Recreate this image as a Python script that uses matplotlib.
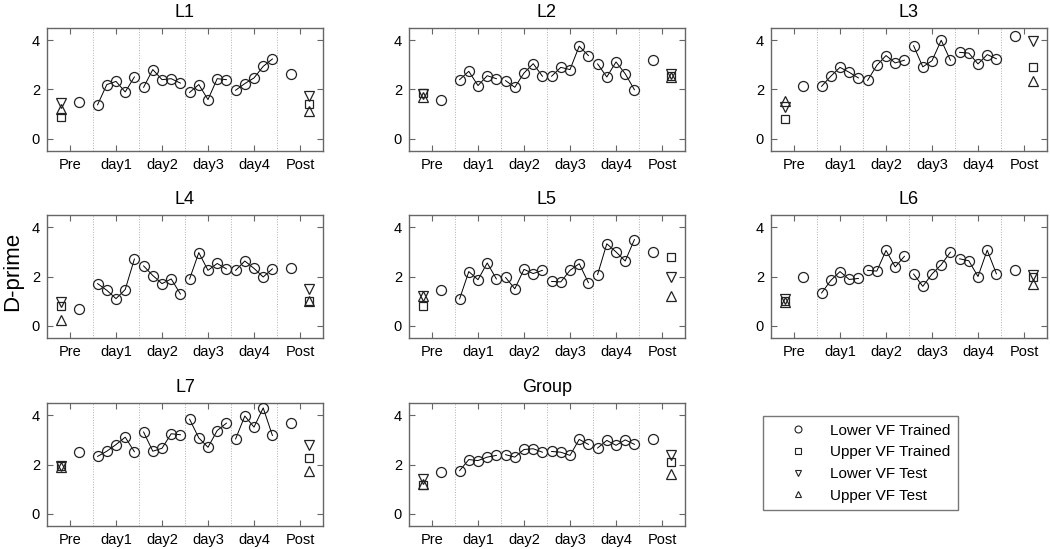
import numpy as np
import matplotlib.pyplot as plt
from matplotlib.lines import Line2D

plt.rcParams['font.family'] = ['Liberation Sans', 'DejaVu Sans']

phases = ['Pre', 'day1', 'day2', 'day3', 'day4', 'Post']
labels = ['Lower VF Trained', 'Upper VF Trained', 'Lower VF Test', 'Upper VF Test']

# pre / post: [lower VF trained, upper VF trained, lower VF test, upper VF test]
# days: 5 sessions per day, day1..day4
l1_pre = [1.48, 0.9, 1.45, 1.2]
l1_days = [1.38, 2.2, 2.33, 1.9, 2.51,
           2.09, 2.81, 2.4, 2.44, 2.26,
           1.88, 2.2, 1.59, 2.44, 2.4,
           1.97, 2.24, 2.47, 2.94, 3.24]
l1_post = [2.64, 1.42, 1.75, 1.11]

l2_pre = [1.56, 1.85, 1.8, 1.7]
l2_days = [2.4, 2.74, 2.16, 2.56, 2.44,
           2.36, 2.09, 2.67, 3.05, 2.54,
           2.54, 2.9, 2.81, 3.76, 3.38,
           3.04, 2.51, 3.12, 2.64, 1.99]
l2_post = [3.19, 2.55, 2.65, 2.5]

l3_pre = [2.13, 0.81, 1.29, 1.55]
l3_days = [2.13, 2.54, 2.9, 2.7, 2.47,
           2.37, 2.98, 3.38, 3.08, 3.19,
           3.78, 2.92, 3.17, 4.0, 3.19,
           3.51, 3.48, 3.04, 3.42, 3.25]
l3_post = [4.16, 2.9, 3.96, 2.33]

l4_pre = [0.68, 0.8, 0.95, 0.22]
l4_days = [1.71, 1.44, 1.1, 1.47, 2.71,
           2.43, 2.04, 1.71, 1.9, 1.29,
           1.9, 2.97, 2.25, 2.53, 2.31,
           2.25, 2.63, 2.33, 1.98, 2.31]
l4_post = [2.35, 0.99, 1.5, 1.0]

l5_pre = [1.47, 0.82, 1.2, 1.22]
l5_days = [1.09, 2.2, 1.87, 2.55, 1.9,
           1.96, 1.5, 2.29, 2.12, 2.25,
           1.8, 1.78, 2.25, 2.52, 1.75,
           2.08, 3.33, 3.0, 2.63, 3.5]
l5_post = [2.99, 2.8, 1.99, 1.22]

l6_pre = [2.0, 1.0, 1.1, 0.95]
l6_days = [1.33, 1.84, 2.2, 1.88, 1.92,
           2.25, 2.22, 3.06, 2.39, 2.82,
           2.1, 1.6, 2.1, 2.48, 2.99,
           2.72, 2.64, 2.0, 3.07, 2.11]
l6_post = [2.25, 1.97, 2.05, 1.7]

l7_pre = [2.5, 1.93, 1.95, 1.9]
l7_days = [2.33, 2.54, 2.81, 3.11, 2.52,
           3.32, 2.54, 2.66, 3.25, 3.21,
           3.84, 3.08, 2.7, 3.38, 3.68,
           3.04, 3.97, 3.52, 4.3, 3.18]
l7_post = [3.68, 2.25, 2.81, 1.72]

group_pre = [1.69, 1.15, 1.4, 1.2]
group_days = [1.75, 2.2, 2.16, 2.3, 2.37,
              2.4, 2.3, 2.61, 2.64, 2.5,
              2.53, 2.5, 2.37, 3.02, 2.82,
              2.67, 2.98, 2.78, 3.0, 2.82]
group_post = [3.02, 2.12, 2.4, 1.61]

panels = [('L1', l1_pre, l1_days, l1_post),
          ('L2', l2_pre, l2_days, l2_post),
          ('L3', l3_pre, l3_days, l3_post),
          ('L4', l4_pre, l4_days, l4_post),
          ('L5', l5_pre, l5_days, l5_post),
          ('L6', l6_pre, l6_days, l6_post),
          ('L7', l7_pre, l7_days, l7_post),
          ('Group', group_pre, group_days, group_post)]

markers = ['o', 's', 'v', '^']
msizes = [7.2, 5.5, 7.5, 7.5]
mcol = '#222222'
frame_col = '#666666'

fig = plt.figure(figsize=(10.5, 5.49), dpi=100)

lefts = [47, 409, 771]
tops = [28, 215, 403]
W, H = 276, 123

offsets = np.array([-0.4, -0.2, 0.0, 0.2, 0.4])

for i, (name, pre, days, post) in enumerate(panels):
    r, c = divmod(i, 3)
    ax = fig.add_axes([lefts[c] / 1050, 1 - (tops[r] + H) / 549, W / 1050, H / 549])

    for xv in np.arange(1.5, 6, 1.0):
        ax.axvline(xv, color='#b0b0b0', lw=0.7, ls=':', zorder=0)

    # sessions, one connected run per day
    for d in range(4):
        xs = d + 2 + offsets
        ys = days[d * 5:(d + 1) * 5]
        ax.plot(xs, ys, '-', color='black', lw=0.7, zorder=2)
        ax.plot(xs, ys, 'o', ms=msizes[0], mfc='none', mec=mcol, mew=0.9, zorder=3)

    # pre / post
    for k in range(4):
        xpre = 1.2 if k == 0 else 0.8
        xpost = 5.8 if k == 0 else 6.2
        ax.plot([xpre, xpost], [pre[k], post[k]], ls='none', marker=markers[k],
                ms=msizes[k], mfc='none', mec=mcol, mew=0.9, zorder=3)

    ax.set_xlim(0.5, 6.5)
    ax.set_ylim(-0.5, 4.5)
    ax.set_xticks(range(1, 7))
    ax.set_xticklabels(phases)
    ax.set_yticks([0, 2, 4])
    ax.tick_params(direction='in', top=True, right=True, length=4,
                   width=0.8, color=frame_col, labelsize=10.5, pad=5)
    for sp in ax.spines.values():
        sp.set_color(frame_col)
        sp.set_linewidth(1.0)
    ax.set_title(name, fontsize=13, pad=8)

fig.text(13 / 1050, 1 - 271 / 549, 'D-prime', rotation=90, fontsize=16,
         ha='center', va='center')

handles = [Line2D([], [], ls='none', marker=markers[k], ms=[5, 4, 5, 5][k],
                  mfc='none', mec=mcol, mew=0.8) for k in range(4)]
fig.legend(handles, labels, loc='upper left',
           bbox_to_anchor=(763 / 1050, 1 - 416 / 549), fontsize=11,
           frameon=True, fancybox=False, edgecolor='#555555',
           handlelength=3.6, handletextpad=0.3, borderpad=0.5,
           labelspacing=0.5, borderaxespad=0)

fig.savefig('out.png', dpi=100)
